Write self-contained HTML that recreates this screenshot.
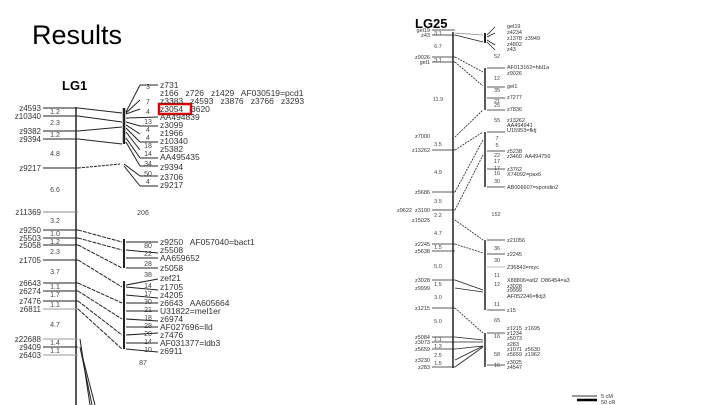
<!DOCTYPE html>
<html><head><meta charset="utf-8"><style>
html,body{margin:0;padding:0;background:#fff;}
svg{display:block;font-family:"Liberation Sans",sans-serif;}
svg text{white-space:pre;}
</style></head><body>
<svg width="720" height="405" viewBox="0 0 720 405" xmlns="http://www.w3.org/2000/svg">
<text x="32" y="44" font-size="27" fill="#000">Results</text>
<text x="62" y="90" font-size="13" font-weight="bold">LG1</text>
<text x="415" y="28" font-size="13" font-weight="bold">LG25</text>

<g stroke="#222" stroke-width="1" fill="none">
<line x1="76" y1="107" x2="76" y2="405" stroke-width="1.5"/>
<line x1="43" y1="108" x2="78" y2="108"/><line x1="43" y1="116" x2="78" y2="116"/>
<line x1="43" y1="131" x2="78" y2="131"/><line x1="43" y1="139" x2="78" y2="139"/>
<line x1="43" y1="168" x2="78" y2="168"/><line x1="43" y1="212" x2="78" y2="212" stroke="#888"/>
<line x1="43" y1="230" x2="78" y2="230"/><line x1="43" y1="238" x2="78" y2="238"/>
<line x1="43" y1="245" x2="78" y2="245"/><line x1="43" y1="260" x2="78" y2="260"/>
<line x1="43" y1="283" x2="78" y2="283"/><line x1="43" y1="291" x2="78" y2="291"/>
<line x1="43" y1="301" x2="78" y2="301"/><line x1="43" y1="309" x2="78" y2="309" stroke="#999"/>
<line x1="43" y1="339" x2="78" y2="339" stroke="#999"/><line x1="43" y1="347" x2="78" y2="347"/>
<line x1="43" y1="355" x2="78" y2="355" stroke="#999"/>
<line x1="78" y1="108" x2="122" y2="113"/><line x1="78" y1="116" x2="122" y2="122"/>
<line x1="78" y1="131" x2="122" y2="127"/><line x1="78" y1="139" x2="122" y2="144"/>
<line x1="78" y1="168" x2="120" y2="164" stroke-dasharray="3,1"/>
<line x1="78" y1="230" x2="122" y2="242" stroke-dasharray="4,1"/><line x1="78" y1="238" x2="122" y2="250" stroke-dasharray="4,1"/>
<line x1="78" y1="245" x2="122" y2="268" stroke-dasharray="4,1"/><line x1="78" y1="260" x2="122" y2="287" stroke-dasharray="4,1"/>
<line x1="78" y1="283" x2="122" y2="303" stroke-dasharray="4,1"/><line x1="78" y1="291" x2="122" y2="319" stroke-dasharray="4,1"/>
<line x1="78" y1="301" x2="122" y2="335" stroke-dasharray="4,1"/><line x1="78" y1="309" x2="122" y2="349" stroke-dasharray="4,1"/>
<line x1="80" y1="339" x2="90" y2="405"/><line x1="80" y1="347" x2="92" y2="405"/><line x1="82" y1="355" x2="95" y2="405"/>
<line x1="124" y1="108" x2="124" y2="144" stroke-width="2.5"/>
<line x1="124" y1="239" x2="124" y2="268" stroke-width="2"/>
<line x1="124" y1="281" x2="124" y2="349" stroke-width="2"/>
<line x1="126" y1="112" x2="140" y2="85"/><line x1="140" y1="85" x2="158" y2="85"/>
<line x1="126" y1="113" x2="140" y2="100"/><line x1="126" y1="114" x2="140" y2="109"/>
<line x1="126" y1="118" x2="158" y2="117"/><line x1="126" y1="122" x2="140" y2="126"/><line x1="140" y1="126" x2="158" y2="126"/>
<line x1="126" y1="125" x2="140" y2="134"/><line x1="126" y1="128" x2="140" y2="142"/><line x1="140" y1="142" x2="158" y2="142"/>
<line x1="126" y1="132" x2="140" y2="150"/><line x1="126" y1="138" x2="140" y2="158"/><line x1="140" y1="158" x2="158" y2="158"/>
<line x1="126" y1="142" x2="140" y2="166"/><line x1="140" y1="166" x2="158" y2="166"/>
<line x1="124" y1="164" x2="140" y2="176"/><line x1="140" y1="176" x2="158" y2="176"/>
<line x1="124" y1="166" x2="140" y2="186"/><line x1="140" y1="186" x2="158" y2="186"/>
<line x1="126" y1="242" x2="158" y2="242"/><line x1="126" y1="250" x2="158" y2="253"/><line x1="126" y1="258" x2="158" y2="258"/><line x1="126" y1="268" x2="158" y2="268"/>
<line x1="126" y1="285" x2="158" y2="279"/><line x1="126" y1="287" x2="158" y2="290"/><line x1="126" y1="295" x2="158" y2="298"/>
<line x1="126" y1="303" x2="158" y2="303"/><line x1="126" y1="311" x2="158" y2="311"/><line x1="126" y1="319" x2="158" y2="321"/>
<line x1="126" y1="327" x2="158" y2="327"/><line x1="126" y1="335" x2="158" y2="333"/><line x1="126" y1="343" x2="158" y2="343"/><line x1="126" y1="349" x2="158" y2="352"/>
</g>
<rect x="159" y="104" width="32" height="10" fill="none" stroke="#d00" stroke-width="2.5"/>
<g font-size="8" fill="#333" text-anchor="end">
<text x="41" y="111">z4593</text><text x="41" y="119">z10340</text><text x="41" y="134">z9382</text><text x="41" y="142">z9394</text>
<text x="41" y="171">z9217</text><text x="41" y="215">z11369</text><text x="41" y="233">z9250</text><text x="41" y="241">z5503</text>
<text x="41" y="248">z5058</text><text x="41" y="263">z1705</text><text x="41" y="286">z6643</text><text x="41" y="294">z6274</text>
<text x="41" y="304">z7476</text><text x="41" y="312">z6811</text><text x="41" y="342">z22688</text><text x="41" y="350">z9409</text><text x="41" y="358">z6403</text>
</g>
<g font-size="7" fill="#444" text-anchor="middle">
<text x="55" y="114">1.2</text><text x="55" y="125">2.3</text><text x="55" y="137">1.2</text><text x="55" y="156">4.8</text>
<text x="55" y="192">6.6</text><text x="55" y="223">3.2</text><text x="55" y="236">1.0</text><text x="55" y="244">1.2</text>
<text x="55" y="254">2.3</text><text x="55" y="274">3.7</text><text x="55" y="289">1.1</text><text x="55" y="297">1.7</text>
<text x="55" y="307">1.1</text><text x="55" y="327">4.7</text><text x="55" y="345">1.4</text><text x="55" y="353">1.1</text>
<text x="148" y="89">3</text><text x="148" y="104">7</text><text x="148" y="114">4</text><text x="148" y="124">13</text><text x="148" y="132">4</text>
<text x="148" y="140">4</text><text x="148" y="148">18</text><text x="148" y="156">14</text><text x="148" y="166">34</text><text x="148" y="176">50</text><text x="148" y="184">4</text>
<text x="143" y="215">206</text>
<text x="148" y="248">80</text><text x="148" y="256">22</text><text x="148" y="266">28</text><text x="148" y="277">38</text>
<text x="148" y="288">14</text><text x="148" y="296">17</text><text x="148" y="304">30</text><text x="148" y="312">21</text><text x="148" y="320">18</text>
<text x="148" y="328">28</text><text x="148" y="336">20</text><text x="148" y="344">14</text><text x="148" y="352">10</text><text x="143" y="365">87</text>
</g>
<g font-size="8.5" fill="#333">
<text x="160" y="88">z731</text><text x="160" y="96">z166   z726   z1429   AF030519=pcd1</text>
<text x="160" y="104">z3383   z4593   z3876   z3766   z3293</text><text x="160" y="112">z3054</text><text x="191" y="112">3620</text>
<text x="160" y="120">AA494839</text><text x="160" y="128">z3099</text><text x="160" y="136">z1966</text><text x="160" y="144">z10340</text>
<text x="160" y="152">z5382</text><text x="160" y="160">AA495435</text><text x="160" y="170">z9394</text><text x="160" y="180">z3706</text><text x="160" y="188">z9217</text>
<text x="160" y="245">z9250   AF057040=bact1</text><text x="160" y="253">z5508</text><text x="160" y="261">AA659652</text><text x="160" y="271">z5058</text>
<text x="160" y="281">zef21</text><text x="160" y="290">z1705</text><text x="160" y="298">z4205</text><text x="160" y="306">z6643   AA605664</text>
<text x="160" y="314">U31822=mel1er</text><text x="160" y="322">z6974</text><text x="160" y="330">AF027696=lld</text><text x="160" y="338">z7476</text>
<text x="160" y="346">AF031377=ldb3</text><text x="160" y="354">z6911</text>
</g>

<g stroke="#222" stroke-width="0.8" fill="none">
<line x1="453" y1="32" x2="453" y2="368" stroke-width="1.5"/>
<line x1="432" y1="30" x2="455" y2="30"/><line x1="432" y1="35" x2="455" y2="35"/>
<line x1="432" y1="57" x2="455" y2="57"/><line x1="432" y1="62" x2="455" y2="62"/>
<line x1="432" y1="150" x2="455" y2="150"/><line x1="432" y1="192" x2="455" y2="192"/>
<line x1="432" y1="210" x2="455" y2="210"/><line x1="432" y1="244" x2="455" y2="244"/><line x1="432" y1="251" x2="455" y2="251"/>
<line x1="432" y1="280" x2="455" y2="280"/><line x1="432" y1="308" x2="455" y2="308"/>
<line x1="432" y1="337" x2="455" y2="337"/><line x1="432" y1="342" x2="455" y2="342"/><line x1="432" y1="349" x2="455" y2="349"/><line x1="432" y1="367" x2="455" y2="367"/>
<line x1="455" y1="33" x2="483" y2="35" stroke="#888"/><line x1="455" y1="35" x2="483" y2="42"/>
<line x1="455" y1="57" x2="483" y2="72" stroke-dasharray="2,1"/><line x1="455" y1="62" x2="483" y2="86" stroke-dasharray="2,1"/>
<line x1="455" y1="137" x2="483" y2="110" stroke-dasharray="2,1"/><line x1="455" y1="150" x2="483" y2="132" stroke-dasharray="2,1"/>
<line x1="455" y1="192" x2="483" y2="140" stroke-dasharray="2,1"/><line x1="455" y1="210" x2="483" y2="155" stroke-dasharray="2,1"/>
<line x1="455" y1="220" x2="483" y2="240" stroke-dasharray="2,1"/><line x1="455" y1="244" x2="483" y2="253" stroke-dasharray="2,1"/>
<line x1="455" y1="280" x2="483" y2="290"/><line x1="455" y1="288" x2="483" y2="292"/>
<line x1="455" y1="308" x2="483" y2="333" stroke-dasharray="2,1"/>
<line x1="455" y1="337" x2="483" y2="340"/><line x1="455" y1="342" x2="483" y2="342"/><line x1="455" y1="349" x2="483" y2="346"/>
<line x1="455" y1="360" x2="483" y2="346"/><line x1="455" y1="367" x2="483" y2="347"/>
<line x1="485" y1="33" x2="485" y2="43" stroke-width="2"/>
<line x1="485" y1="68" x2="485" y2="110" stroke-width="1.5"/>
<line x1="485" y1="132" x2="485" y2="187" stroke-width="1.5"/>
<line x1="485" y1="240" x2="485" y2="310" stroke-width="1.5"/>
<line x1="485" y1="333" x2="485" y2="367" stroke-width="1.5"/>
<line x1="487" y1="68" x2="505" y2="68"/><line x1="487" y1="87" x2="505" y2="87"/><line x1="487" y1="98" x2="505" y2="98"/><line x1="487" y1="110" x2="505" y2="110"/>
<line x1="487" y1="132" x2="505" y2="132"/><line x1="487" y1="151" x2="505" y2="151"/><line x1="487" y1="169" x2="505" y2="169"/><line x1="487" y1="187" x2="505" y2="187"/>
<line x1="487" y1="240" x2="505" y2="240"/><line x1="487" y1="254" x2="505" y2="254"/><line x1="487" y1="267" x2="505" y2="267" stroke="#aaa"/>
<line x1="487" y1="310" x2="505" y2="310"/><line x1="487" y1="333" x2="505" y2="333"/><line x1="487" y1="365" x2="505" y2="365"/>
<line x1="487" y1="35" x2="495" y2="27"/><line x1="487" y1="37" x2="495" y2="33"/><line x1="487" y1="40" x2="495" y2="45"/><line x1="487" y1="42" x2="495" y2="50"/>
<line x1="572" y1="396" x2="597" y2="396" stroke="#777" stroke-width="1.5"/>
<line x1="577" y1="400" x2="597" y2="400" stroke="#000" stroke-width="2.5"/>
</g>
<g font-size="5.5" fill="#333" text-anchor="end">
<text x="430" y="32">gel19</text><text x="430" y="37">z43</text><text x="430" y="59">z9026</text><text x="430" y="64">gel1</text>
<text x="430" y="138">z7000</text><text x="430" y="152">z13262</text><text x="430" y="194">z5686</text><text x="430" y="212">z9622  z3100</text>
<text x="430" y="222">z15025</text><text x="430" y="246">z2245</text><text x="430" y="253">z5638</text><text x="430" y="282">z3028</text><text x="430" y="290">z9999</text>
<text x="430" y="310">z1215</text><text x="430" y="339">z5084</text><text x="430" y="344">z3073</text><text x="430" y="351">z5659</text><text x="430" y="362">z3230</text><text x="430" y="369">z283</text>
</g>
<g font-size="5.5" fill="#444" text-anchor="middle">
<text x="438" y="35">3.1</text><text x="438" y="48">6.7</text><text x="438" y="62">3.1</text><text x="438" y="101">11.9</text><text x="438" y="146">3.5</text>
<text x="438" y="174">4.9</text><text x="438" y="203">3.5</text><text x="438" y="217">2.2</text><text x="438" y="235">4.7</text><text x="438" y="249">1.5</text>
<text x="438" y="268">5.0</text><text x="438" y="286">1.5</text><text x="438" y="299">3.0</text><text x="438" y="323">5.0</text>
<text x="438" y="341">1.1</text><text x="438" y="348">1.3</text><text x="438" y="357">2.5</text><text x="438" y="365">1.5</text>
<text x="497" y="58">52</text><text x="497" y="80">12</text><text x="497" y="92">35</text><text x="497" y="103">21</text><text x="497" y="107">25</text><text x="497" y="122">55</text>
<text x="497" y="140">7</text><text x="497" y="147">5</text><text x="497" y="157">22</text><text x="497" y="163">17</text><text x="497" y="170">17</text><text x="497" y="175">16</text><text x="497" y="183">30</text>
<text x="496" y="216">152</text><text x="497" y="250">36</text><text x="497" y="262">30</text><text x="497" y="277">11</text><text x="497" y="286">12</text><text x="497" y="306">11</text><text x="497" y="322">65</text>
<text x="497" y="338">16</text><text x="497" y="356">58</text><text x="497" y="367">16</text>
</g>
<g font-size="5.5" fill="#333">
<text x="507" y="28">gel19</text><text x="507" y="34">z4234</text><text x="507" y="40">z1378  z3949</text><text x="507" y="46">z4802</text><text x="507" y="51">z43</text>
<text x="507" y="69">AF013162=hbl1a</text><text x="507" y="75">z9026</text><text x="507" y="88">gel1</text><text x="507" y="99">z7277</text><text x="507" y="111">z7836</text>
<text x="507" y="122">z13262</text><text x="507" y="127">AA494941</text><text x="507" y="132">U15953=fktj</text><text x="507" y="153">z5238</text><text x="507" y="158">z3460  AA494756</text>
<text x="507" y="171">z3762</text><text x="507" y="176">X74092=pax6</text><text x="507" y="189">AB006607=spondin2</text>
<text x="507" y="242">z21056</text><text x="507" y="256">z2245</text><text x="507" y="269">Z36843=myc</text>
<text x="507" y="282">X88806=atl2  D86454=a3</text><text x="507" y="288">z3028</text><text x="507" y="292">z9999</text><text x="507" y="298">AF052246=fktj3</text><text x="507" y="312">z15</text>
<text x="507" y="330">z1215  z1695</text><text x="507" y="335">z1234</text><text x="507" y="340">z5073</text><text x="507" y="346">z283</text><text x="507" y="351">z1071  z5630</text><text x="507" y="356">z5659  z1962</text>
<text x="507" y="364">z3025</text><text x="507" y="369">z4547</text>
<text x="601" y="398">5 cM</text><text x="601" y="404">50 cR</text>
</g>
</svg>
</body></html>
